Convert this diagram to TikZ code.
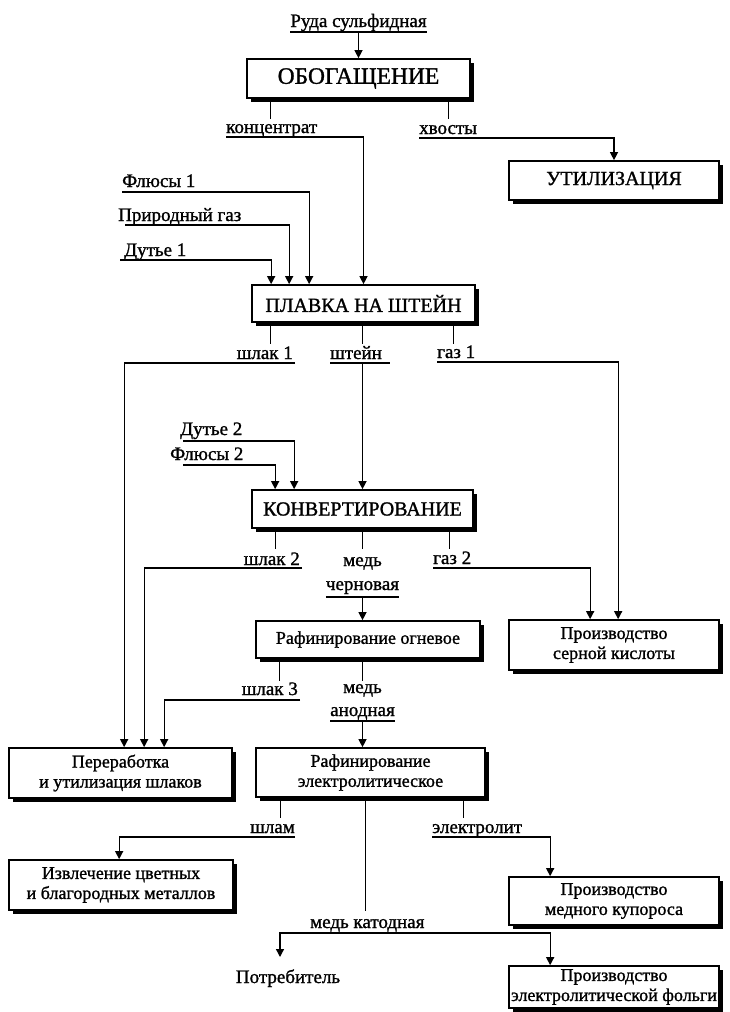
\documentclass[tikz,border=0pt]{standalone}
\usepackage{fontspec}
\setmainfont{Liberation Serif}[FakeBold = 1.2]
\usepackage{tikz}
\usetikzlibrary{positioning, calc, shadows, arrows.meta}

\begin{document}
\begin{tikzpicture}[x = 1pt, y = -1pt,
        blk/.style = {draw, fill = white, line width = 1.7pt, inner sep = 0pt,
        align = center, drop shadow = {shadow xshift = 4pt, shadow yshift = -4pt,
        fill = black, opacity = 1}},
        big/.style = {font = \fontsize{20}{22}\selectfont},
        small/.style = {font = \fontsize{18}{20}\selectfont},
        lbl/.style = {inner sep = 0pt, font = \fontsize{19}{21}\selectfont},
        ln/.style = {line width = 1.3pt},
        arr/.style = {line width = 1.3pt, -{Triangle[width = 8pt, length = 8pt]}},
        arrb/.style = {line width = 1.3pt,
        {Triangle[width = 8pt, length = 8pt]}-{Triangle[width = 8pt, length = 8pt]}}]
        \useasboundingbox (0,0) rectangle (729,1012);

        % boxes
        \node [blk, font = \fontsize{23.5}{25}\selectfont, minimum width = 223pt,
        minimum height = 39pt] (obog) at (358.5,78.5) {ОБОГАЩЕНИЕ};
        \node [blk, big, minimum width = 210pt, minimum height = 39pt] (util)
        at (614,180.5) {УТИЛИЗАЦИЯ};
        \node [blk, big, minimum width = 223pt, minimum height = 37pt] (plav)
        at (363.5,303.5) {ПЛАВКА НА ШТЕЙН};
        \node [blk, big, minimum width = 221pt, minimum height = 38pt] (konv)
        at (362.5,509) {КОНВЕРТИРОВАНИЕ};
        \node [blk, small, minimum width = 224pt, minimum height = 37pt] (rafog)
        at (368,639.5) {Рафинирование огневое};
        \node [blk, small, minimum width = 210pt, minimum height = 50pt] (sera)
        at (614,645) {Производство\\серной кислоты};
        \node [blk, small, minimum width = 223pt, minimum height = 50pt] (perer)
        at (120.5,773) {Переработка\\и утилизация шлаков};
        \node [blk, small, minimum width = 229pt, minimum height = 49pt] (rafel)
        at (370.5,772.5) {Рафинирование\\электролитическое};
        \node [blk, small, minimum width = 224pt, minimum height = 50pt] (izvl)
        at (121,885) {Извлечение цветных\\и благородных металлов};
        \node [blk, small, minimum width = 210pt, minimum height = 48pt] (kupor)
        at (614,901) {Производство\\медного купороса};
        \node [blk, small, minimum width = 210pt, minimum height = 42pt] (folga)
        at (614,987) {Производство\\электролитической фольги};

        % labels
        \node [lbl, anchor = base] (ruda) at (358.5,27) {Руда сульфидная};
        \node [lbl, anchor = base west] (konc) at (226,133) {концентрат};
        \node [lbl, anchor = base west] (xvost) at (419,134) {хвосты};
        \node [lbl, anchor = base west] (flux1) at (122,187) {Флюсы 1};
        \node [lbl, anchor = base west] (gaz0) at (118,221) {Природный газ};
        \node [lbl, anchor = base west] (dut1) at (124,256) {Дутье 1};
        \node [lbl, anchor = base east] (shl1) at (293,359) {шлак 1};
        \node [lbl, anchor = base west] (shtein) at (330,359) {штейн};
        \node [lbl, anchor = base west] (gaz1) at (437,358) {газ 1};
        \node [lbl, anchor = base west] (dut2) at (180,435) {Дутье 2};
        \node [lbl, anchor = base west] (flux2) at (170,460) {Флюсы 2};
        \node [lbl, anchor = base east] (shl2) at (300,565) {шлак 2};
        \node [lbl, anchor = base] (med1) at (362.5,566) {медь};
        \node [lbl, anchor = base] (chern) at (362.5,590) {черновая};
        \node [lbl, anchor = base west] (gaz2) at (433,564) {газ 2};
        \node [lbl, anchor = base east] (shl3) at (298,695) {шлак 3};
        \node [lbl, anchor = base] (med2) at (362.5,693) {медь};
        \node [lbl, anchor = base] (anod) at (362.5,716) {анодная};
        \node [lbl, anchor = base east] (shlam) at (295,833) {шлам};
        \node [lbl, anchor = base west] (elektr) at (432,833) {электролит};
        \node [lbl, anchor = base west] (katod) at (310,928) {медь катодная};
        \node [lbl, anchor = base] (potr) at (288,983) {Потребитель};
        \coordinate (ptip) at ($(potr.base) + (-8,-26)$);

        % ore and concentration
        \draw [ln] ($(ruda.base west) + (0,5)$) -- ($(ruda.base east) + (0,5)$);
        \draw [arr] ($(ruda.base) + (0,5)$) -- (obog.north);
        \draw [ln] ($(obog.south west) + (24,0)$) -- ++ (0,20);
        \draw [ln] ($(obog.south west) + (202,0)$) -- ++ (0,20);
        \draw [arr] ($(konc.base west) + (0,4)$) -| (plav.north);
        \draw [arr] ($(xvost.base west) + (0,4)$) -| (util.north);

        % smelting to matte
        \draw [arr] ($(flux1.base west) + (0,5)$) -| ($(plav.north west) + (58,0)$);
        \draw [arr] ($(gaz0.base west) + (7,4)$) -| ($(plav.north west) + (38,0)$);
        \draw [arr] ($(dut1.base west) + (-4,4)$) -| ($(plav.north west) + (20,0)$);
        \draw [ln] ($(plav.south west) + (19,0)$) -- ++ (0,21);
        \draw [ln] ($(plav.south west) + (111,0)$) -- ++ (0,21);
        \draw [ln] ($(plav.south west) + (202,0)$) -- ++ (0,21);
        \draw [arr] ($(shl1.base east) + (2,4)$) -| ($(perer.north west) + (116,0)$);
        \draw [ln] ($(shtein.base west) + (0,4)$) -- ($(shtein.base east) + (8,4)$);
        \draw [arr] ($(konv.north |- shtein.base) + (0,4)$) -- (konv.north);
        \draw [arr] ($(gaz1.base west) + (0,4)$) -| ($(sera.north west) + (110,0)$);

        % converting
        \draw [arr] ($(dut2.base west) + (3,6)$) -| ($(konv.north west) + (43,0)$);
        \draw [arr] ($(flux2.base west) + (13,5)$) -| ($(konv.north west) + (24,0)$);
        \draw [ln] ($(konv.south west) + (24,0)$) -- ++ (0,20);
        \draw [ln] ($(konv.south west) + (111,0)$) -- ++ (0,20);
        \draw [ln] ($(konv.south west) + (198,0)$) -- ++ (0,20);
        \draw [arr] ($(shl2.base east) + (2,3)$) -| ($(perer.north west) + (136,0)$);
        \draw [ln] ($(chern.base west) + (0,7)$) -- ($(chern.base east) + (0,7)$);
        \draw [arr] ($(chern.base) + (0,7)$) -- (chern.base |- rafog.north);
        \draw [arr] ($(gaz2.base west) + (0,4)$) -| ($(sera.north west) + (82,0)$);

        % fire refining
        \draw [ln] ($(rafog.south west) + (24,0)$) -- ++ (0,22);
        \draw [ln] ($(rafog.south west) + (107,0)$) -- ++ (0,22);
        \draw [arr] ($(shl3.base east) + (2,5)$) -| ($(perer.north west) + (156,0)$);
        \draw [ln] ($(anod.base west) + (0,5)$) -- ($(anod.base east) + (0,5)$);
        \draw [arr] ($(anod.base) + (0,5)$) -- (anod.base |- rafel.north);

        % electrolytic refining
        \draw [ln] ($(rafel.south west) + (25,0)$) -- ++ (0,20);
        \draw [ln] ($(rafel.south west) + (208,0)$) -- ++ (0,20);
        \draw [ln] ($(rafel.south west) + (110,0)$) -- ++ (0,113);
        \draw [arr] ($(shlam.base east) + (0,4)$) -| ($(izvl.north west) + (111,0)$);
        \draw [arr] ($(elektr.base west) + (0,4)$) -| ($(kupor.north west) + (42,0)$);
        \draw [arrb] (ptip) |- ($(katod.base) + (0,5)$) -| ($(folga.north west) + (42,0)$);
\end{tikzpicture}
\end{document}
